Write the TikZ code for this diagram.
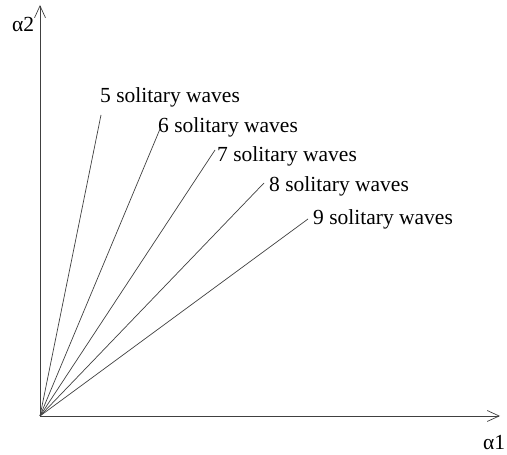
\documentclass[tikz,border=0pt]{standalone}
\usepackage{fontspec}
\setmainfont{Liberation Serif}
\usetikzlibrary{arrows.meta, positioning, calc}

\begin{document}
\begin{tikzpicture}[x=1pt, y=1pt, every node/.style={font=\fontsize{21.5}{25}\selectfont, inner sep=0pt},
    axis/.style={line width=0.7pt, black!75, -{Straight Barb[length=12pt, width=11pt, line width=0.7pt]}},
    ray/.style={line width=0.7pt, black!75}]
  \useasboundingbox (-40,-39) rectangle (467,416);

  \coordinate (o) at (0,0);
  \coordinate (xend) at (460,0);
  \coordinate (yend) at (0,411);

  \draw[axis] (o) -- (xend);
  \draw[axis] (o) -- (yend);
  \node[anchor=base west] (a2) at (-28,384) {α2};
  \node[anchor=base west] (a1) at (443,-34) {α1};

  % rays
  \coordinate (r5) at (61,301);
  \coordinate (r6) at (120,287);
  \coordinate (r7) at (175,266);
  \coordinate (r8) at (224,233);
  \coordinate (r9) at (268,197);
  \foreach \r in {5,...,9}
    \draw[ray] (o) -- (r\r);

  \node[anchor=base west] (w5) at (60,313) {5 solitary waves};
  \node[anchor=base west] (w6) at (118,283) {6 solitary waves};
  \node[anchor=base west] (w7) at (177,254) {7 solitary waves};
  \node[anchor=base west] (w8) at (229,224) {8 solitary waves};
  \node[anchor=base west] (w9) at (273,191) {9 solitary waves};
\end{tikzpicture}
\end{document}
